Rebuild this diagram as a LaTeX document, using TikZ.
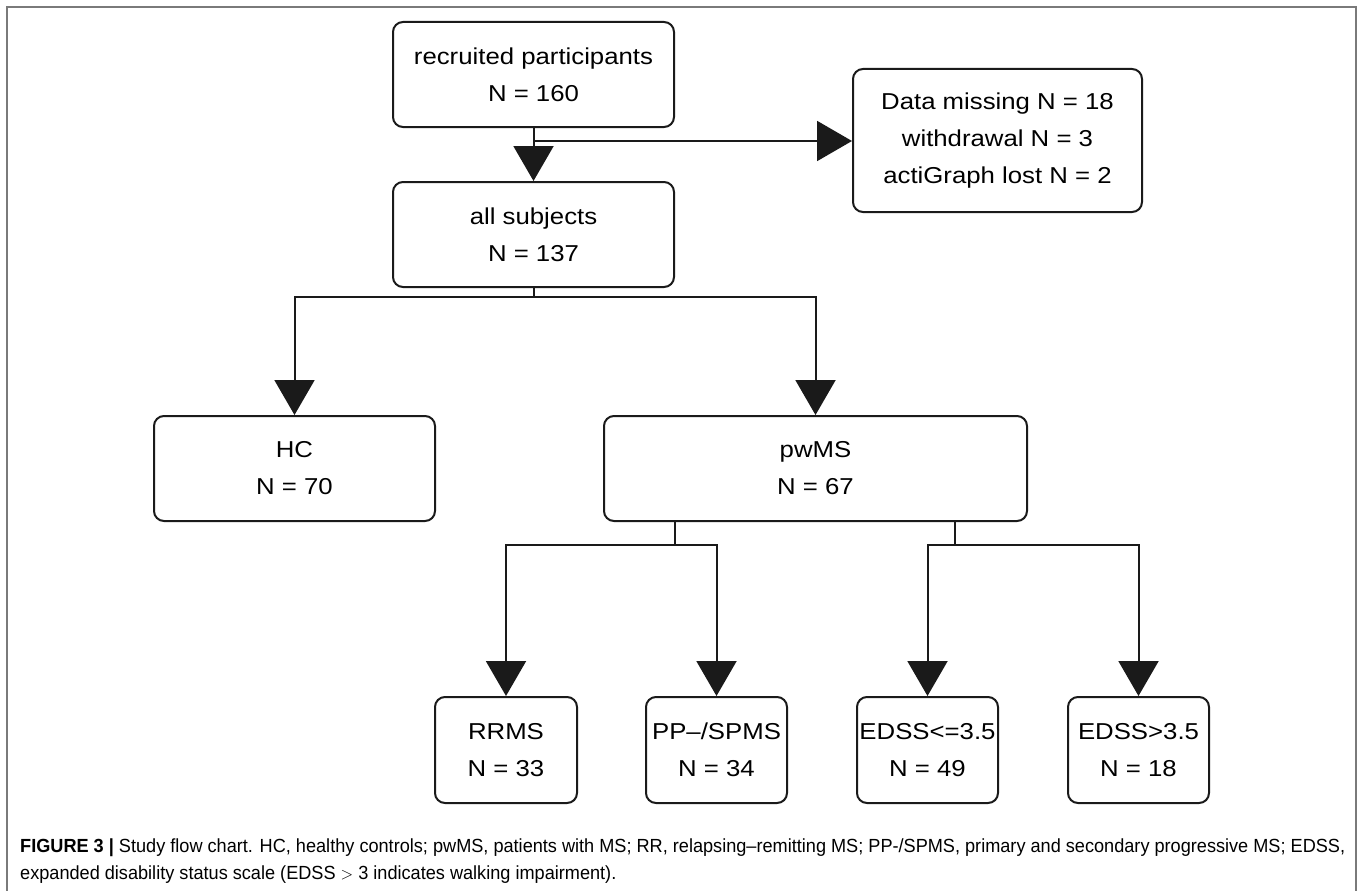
\documentclass[tikz,border=0pt]{standalone}
\usepackage{fontspec}
\usepackage{graphicx}
\setmainfont{Liberation Sans}
\newfontfamily\boxfont[FakeStretch=1.12]{Liberation Sans}
\newfontfamily\capfont{Liberation Sans}
\usetikzlibrary{arrows.meta}
\definecolor{linec}{HTML}{1A1A1A}
\definecolor{framec}{HTML}{7A7A7A}
\definecolor{capc}{HTML}{2A2A2A}
\newsavebox\capA
\newsavebox\capB
\newlength\capAw
\begin{document}
\sbox\capA{\capfont\fontsize{19}{22}\selectfont\textbf{FIGURE 3 |} Study flow chart. HC, healthy controls; pwMS, patients with MS; RR, relapsing–remitting MS; PP-/SPMS, primary and secondary progressive MS; EDSS,}%
\sbox\capB{\capfont\fontsize{19}{22}\selectfont expanded disability status scale (EDSS $>$ 3 indicates walking impairment).}%
\setlength\capAw{\wd\capA}%
\pgfmathsetmacro\capsx{1325/\capAw}%
\begin{tikzpicture}[x=1pt,y=-1pt,
  fbox/.style={draw=linec, line width=2pt, rounded corners=10pt, align=center,
    inner sep=0pt, font=\boxfont\fontsize{23}{37}\selectfont, text=black},
  conn/.style={draw=linec, line width=2pt},
  arr/.style={conn, -{Triangle[width=40pt,length=35pt]}},
  captext/.style={anchor=base west, inner sep=0pt, text=capc}]
\useasboundingbox (0,0) rectangle (1362,891);
\draw[framec, line width=2pt] (7,891) -- (7,7) -- (1356,7) -- (1356,891);

\node[fbox, minimum width=281pt, minimum height=105pt] (rec) at (533.5,74.5) {recruited participants\\N = 160};
\node[fbox, minimum width=281pt, minimum height=105pt] (all) at (533.5,234.5) {all subjects\\N = 137};
\node[fbox, minimum width=289pt, minimum height=143pt] (miss) at (997.5,140.5) {Data missing N = 18\\withdrawal N = 3\\actiGraph lost N = 2};
\node[fbox, minimum width=281pt, minimum height=105pt] (hc) at (294.5,468.5) {HC\\N = 70};
\node[fbox, minimum width=423pt, minimum height=105pt] (pw) at (815.5,468.5) {pwMS\\N = 67};
\node[fbox, minimum width=142pt, minimum height=106pt] (rr) at (506,750) {RRMS\\N = 33};
\node[fbox, minimum width=141pt, minimum height=106pt] (pp) at (716.5,750) {PP–/SPMS\\N = 34};
\node[fbox, minimum width=141pt, minimum height=106pt] (e1) at (927.5,750) {EDSS<=3.5\\N = 49};
\node[fbox, minimum width=141pt, minimum height=106pt] (e2) at (1138.5,750) {EDSS>3.5\\N = 18};

\coordinate (j1) at (533.5,141);
\coordinate (j2) at (533.5,297);
\coordinate (j3) at (675,545);
\coordinate (j4) at (955,545);

\draw[arr] (rec.south) -- (all.north);
\draw[arr] (j1) -- (miss.west |- j1);
\draw[conn] (all.south) -- (j2);
\draw[arr] (j2) -| (hc.north);
\draw[arr] (j2) -| (pw.north);
\draw[conn] (pw.south -| j3) -- (j3);
\draw[conn] (pw.south -| j4) -- (j4);
\draw[arr] (j3) -| (rr.north);
\draw[arr] (j3) -| (pp.north);
\draw[arr] (j4) -| (e1.north);
\draw[arr] (j4) -| (e2.north);

\node[captext] (capa) at (20,852) {\scalebox{\capsx}[1]{\usebox\capA}};
\node[captext] (capb) at (20,879) {\scalebox{\capsx}[1]{\usebox\capB}};
\end{tikzpicture}
\end{document}
